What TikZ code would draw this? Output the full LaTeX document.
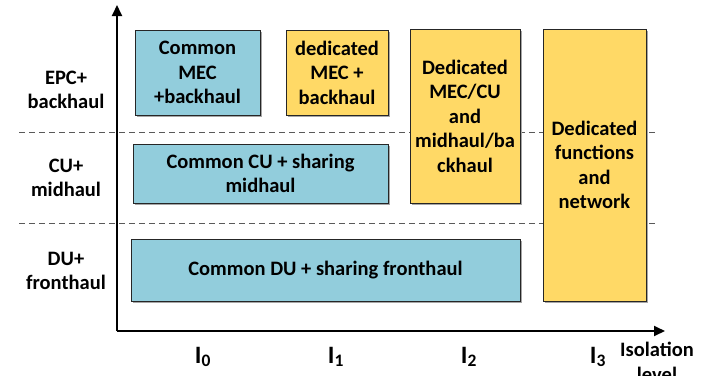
\documentclass[tikz,border=0pt]{standalone}
\usepackage{fontspec}
\setmainfont{Carlito}
\usepackage{tikz}
\usetikzlibrary{positioning,arrows.meta,shadows}

\definecolor{shareblue}{HTML}{92CDDC}
\definecolor{dediyellow}{HTML}{FFD966}

\tikzset{
  box/.style={draw=black!85, line width=0.9pt, inner sep=0pt, align=center,
    font=\bfseries\fontsize{20.5}{24.5}\selectfont,
    drop shadow={shadow xshift=1.5pt, shadow yshift=-1.5pt, fill=black!35, opacity=1}},
  sharebox/.style={box, fill=shareblue},
  dedibox/.style={box, fill=dediyellow},
  rowlabel/.style={align=center, font=\bfseries\fontsize{20.5}{24.5}\selectfont},
  levellabel/.style={font=\bfseries\fontsize{25}{27}\selectfont},
}

\begin{document}
\begin{tikzpicture}[x=1pt, y=-1pt]
  \useasboundingbox (0,0) rectangle (723,375);

  % row separators
  \draw[dashed, dash pattern=on 6pt off 4pt, black!65, line width=0.8pt] (19,132) -- (655,132);
  \draw[dashed, dash pattern=on 6pt off 4pt, black!65, line width=0.8pt] (19,223) -- (655,223);

  % axes
  \coordinate (origin) at (117,331);
  \coordinate (ytip) at (117,5);
  \coordinate (xtip) at (665,331);
  \draw[line width=1.8pt, -{Triangle[length=11pt, width=10pt]}] (origin) -- (ytip);
  \draw[line width=1.8pt, -{Triangle[length=11pt, width=10pt]}] (origin) -- (xtip);

  % shared resources
  \node[sharebox, minimum width=125pt, minimum height=85pt] (mec) at (197.5,72.5) {Common\\MEC\\+backhaul};
  \node[sharebox, minimum width=255pt, minimum height=59pt] (cu) at (260.5,173.5) {Common CU + sharing\\midhaul};
  \node[sharebox, minimum width=389pt, minimum height=62pt] (du) at (325.5,270) {Common DU + sharing fronthaul};

  % dedicated resources
  \node[dedibox, minimum width=102pt, minimum height=85pt] (dmec) at (337,72.5) {dedicated\\MEC +\\backhaul};
  \node[dedibox, minimum width=110pt, minimum height=174pt] (dmeccu) at (465,116) {Dedicated\\MEC/CU\\and\\midhaul/ba\\ckhaul};
  \node[dedibox, minimum width=103pt, minimum height=272pt] (dfn) at (594.5,165) {Dedicated\\functions\\and\\network};

  % row labels
  \node[rowlabel] (epc) at (66,90) {EPC+\\backhaul};
  \node[rowlabel] (cul) at (66,178) {CU+\\midhaul};
  \node[rowlabel] (dul) at (66,271) {DU+\\fronthaul};

  % isolation levels
  \node[levellabel] (i0) at (203,357) {I\textsubscript{0}};
  \node[levellabel] (i1) at (336,357) {I\textsubscript{1}};
  \node[levellabel] (i2) at (469,357) {I\textsubscript{2}};
  \node[levellabel] (i3) at (598,357) {I\textsubscript{3}};
  \node[rowlabel, anchor=north] (iso) at (657,339) {Isolation\\level};
\end{tikzpicture}
\end{document}
